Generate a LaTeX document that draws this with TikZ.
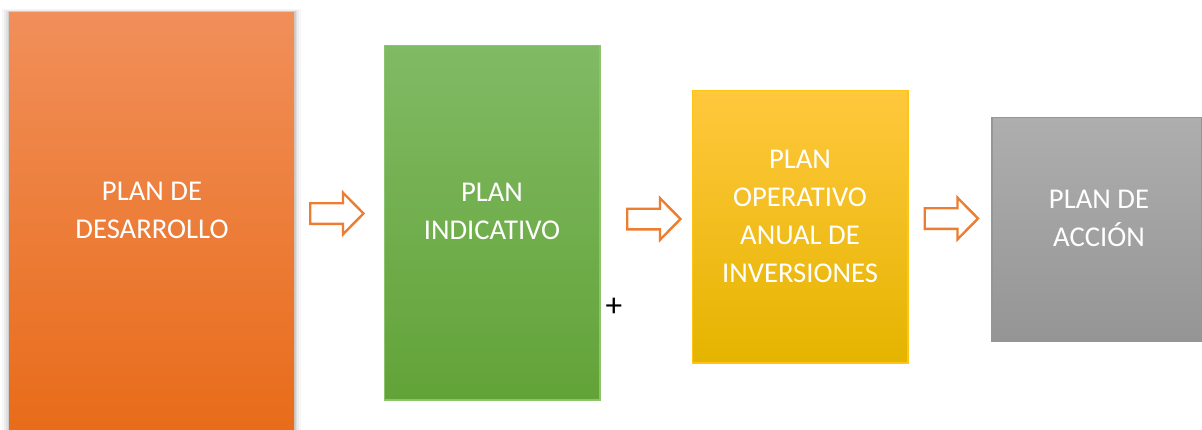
\documentclass[tikz,border=0pt]{standalone}
\usepackage{fontspec}
\setmainfont{Carlito}
\definecolor{orTop}{RGB}{241,143,90}
\definecolor{orMid}{RGB}{245,128,50}
\definecolor{orBot}{RGB}{232,108,26}
\definecolor{grTop}{RGB}{129,186,100}
\definecolor{grMid}{RGB}{112,173,71}
\definecolor{grBot}{RGB}{98,163,56}
\definecolor{grLine}{RGB}{140,196,110}
\definecolor{yeTop}{RGB}{255,200,61}
\definecolor{yeMid}{RGB}{255,192,0}
\definecolor{yeBot}{RGB}{229,180,0}
\definecolor{yeLine}{RGB}{255,196,20}
\definecolor{gyTop}{RGB}{174,174,174}
\definecolor{gyMid}{RGB}{165,165,165}
\definecolor{gyBot}{RGB}{149,149,149}
\definecolor{gyLine}{RGB}{150,150,150}
\definecolor{arrowOr}{RGB}{237,125,49}
\tikzset{
  boxtext/.style={text=white, align=center, inner sep=0pt,
    font=\fontsize{21.5}{28.5}\selectfont},
  arrowsty/.style={draw=arrowOr, line width=1.8pt, fill=white, line join=miter},
  barrow/.pic={
    \draw[arrowsty] (1.2,-10.3) -- (34,-10.3) -- (34,-20.8) -- (54.5,0) -- (34,20.8) -- (34,10.3) -- (1.2,10.3) -- cycle;
  }
}
\begin{document}
\begin{tikzpicture}[x=0.75pt,y=-0.75pt]
\useasboundingbox (0,0) rectangle (1202,429);
\fill[white] (0,0) rectangle (1202,429);
% shadow of the orange box
\foreach \d/\o in {7/0.03,5/0.04,3/0.06,1.5/0.08}{
  \fill[black, opacity=\o] (9-\d,12-0.5*\d) rectangle (294+\d,440);
}
% boxes
\shade[top color=orTop, middle color=orMid, bottom color=orBot] (9,12) rectangle (294,429);
\shade[top color=grTop, middle color=grMid, bottom color=grBot, draw=grLine, line width=0.8pt] (384.5,45.5) rectangle (600,400);
\shade[top color=yeTop, middle color=yeMid, bottom color=yeBot, draw=yeLine, line width=0.8pt] (692.5,90.5) rectangle (908,363);
\shade[top color=gyTop, middle color=gyMid, bottom color=gyBot, draw=gyLine, line width=0.8pt] (992,117.5) rectangle (1201.6,341.5);
% texts
\node[boxtext] (t1) at (152,210.7) {PLAN DE\\DESARROLLO};
\node[boxtext] (t2) at (492,211.5) {PLAN\\INDICATIVO};
\node[boxtext] (t3) at (800,215.9) {PLAN\\OPERATIVO\\ANUAL DE\\INVERSIONES};
\node[boxtext] (t4) at (1099,218.3) {PLAN DE\\ACCIÓN};
% arrows
\pic at (309,213.5) {barrow};
\pic at (626,219) {barrow};
\pic at (923.5,218.5) {barrow};
% plus
\node[inner sep=0pt, font=\fontsize{25}{25}\selectfont] (plus) at (614,307) {+};
\end{tikzpicture}
\end{document}
